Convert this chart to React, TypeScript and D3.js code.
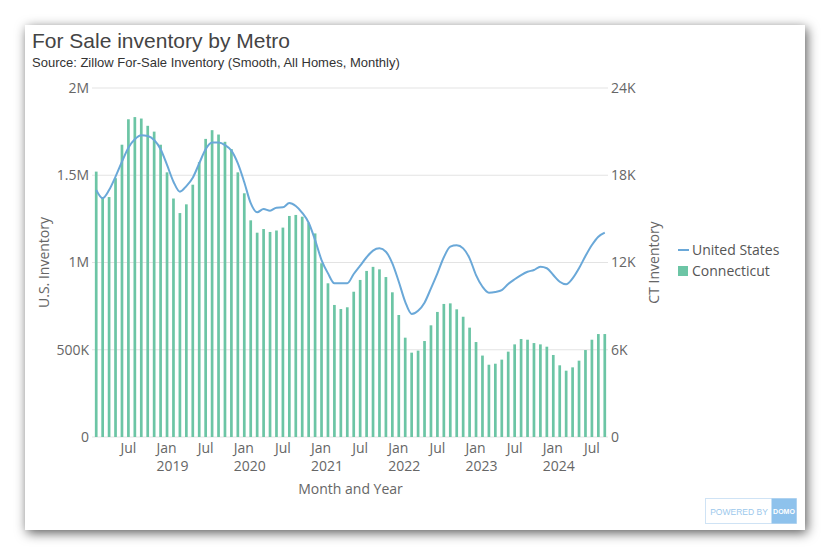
import React from "react";
import * as d3 from "d3";

const months: string[] = [
  "2018-02","2018-03","2018-04","2018-05","2018-06","2018-07","2018-08","2018-09","2018-10","2018-11","2018-12",
  "2019-01","2019-02","2019-03","2019-04","2019-05","2019-06","2019-07","2019-08","2019-09","2019-10","2019-11","2019-12",
  "2020-01","2020-02","2020-03","2020-04","2020-05","2020-06","2020-07","2020-08","2020-09","2020-10","2020-11","2020-12",
  "2021-01","2021-02","2021-03","2021-04","2021-05","2021-06","2021-07","2021-08","2021-09","2021-10","2021-11","2021-12",
  "2022-01","2022-02","2022-03","2022-04","2022-05","2022-06","2022-07","2022-08","2022-09","2022-10","2022-11","2022-12",
  "2023-01","2023-02","2023-03","2023-04","2023-05","2023-06","2023-07","2023-08","2023-09","2023-10","2023-11","2023-12",
  "2024-01","2024-02","2024-03","2024-04","2024-05","2024-06","2024-07","2024-08","2024-09"
];

// Connecticut inventory (thousands)
const ctInventory: number[] = [
  18.25,16.5,16.5,17.8,20.1,21.85,22.0,21.9,21.4,21.0,20.1,
  18.2,16.4,15.4,16.0,17.35,18.9,20.5,21.1,20.8,20.3,19.8,18.2,
  16.76,14.9,14.05,14.3,14.1,14.2,14.4,15.2,15.27,15.15,14.74,14.0,
  11.95,10.57,9.08,8.8,8.92,9.99,10.8,11.42,11.7,11.53,11.0,9.95,
  8.39,6.83,5.8,5.94,6.6,7.68,8.6,9.15,9.19,8.78,8.27,7.52,
  6.53,5.6,4.97,5.04,5.32,5.87,6.37,6.74,6.69,6.46,6.37,6.21,
  5.64,4.93,4.56,4.79,5.25,5.98,6.69,7.08,7.08
];

// United States inventory (millions)
const usInventory: number[] = [
  1.415,1.368,1.415,1.492,1.578,1.658,1.706,1.729,1.725,1.702,1.649,
  1.559,1.463,1.406,1.438,1.486,1.568,1.649,1.687,1.687,1.673,1.641,1.568,
  1.46,1.34,1.288,1.307,1.297,1.314,1.316,1.341,1.324,1.285,1.228,1.129,
  1.014,0.938,0.881,0.881,0.881,0.934,0.982,1.03,1.068,1.081,1.062,0.995,
  0.89,0.775,0.705,0.724,0.77,0.852,0.938,1.03,1.091,1.099,1.081,1.024,
  0.928,0.861,0.827,0.831,0.842,0.877,0.904,0.928,0.947,0.957,0.976,0.967,
  0.928,0.89,0.875,0.909,0.967,1.037,1.1,1.148,1.171
];

const leftTicks: number[] = [0, 500000, 1000000, 1500000, 2000000];
const leftTickLabels: string[] = ["0", "500K", "1M", "1.5M", "2M"];
const rightTicks: number[] = [0, 6000, 12000, 18000, 24000];
const rightTickLabels: string[] = ["0", "6K", "12K", "18K", "24K"];

const julTicks: string[] = ["2018-07","2019-07","2020-07","2021-07","2022-07","2023-07","2024-07"];
const janTicks: string[] = ["2019-01","2020-01","2021-01","2022-01","2023-01","2024-01"];
const yearLabels: string[] = ["2019","2020","2021","2022","2023","2024"];

const seriesNames: string[] = ["United States", "Connecticut"];

const GREEN = "#6cc5a5";
const BLUE = "#6aa8d8";
const AXIS_TEXT = "#666";
const FONT = "'Open Sans', sans-serif";
const ARIAL = "'Liberation Sans', Arial, sans-serif";

export default function App() {
  const left = 93, right = 608, top = 88, bottom = 437;
  const x = d3.scaleBand<string>().domain(months).range([left, right]).paddingInner(0.58).paddingOuter(0.29);
  const yL = d3.scaleLinear().domain([0, 2000000]).range([bottom, top]);
  const yR = d3.scaleLinear().domain([0, 24000]).range([bottom, top]);
  const cx = (m: string) => (x(m) as number) + x.bandwidth() / 2;

  const line = d3
    .line<number>()
    .x((_, i) => cx(months[i]))
    .y((d) => yL(d * 1e6))
    .curve(d3.curveMonotoneX);

  return (
    <div style={{ position: "fixed", left: 0, top: 0, width: 830, height: 555, background: "#fff" }}>
      <svg width={830} height={555} style={{ display: "block" }}>
        <defs>
          <filter id="shadow" x="-10%" y="-10%" width="120%" height="120%">
            <feDropShadow dx="2" dy="3" stdDeviation="6" floodColor="#000" floodOpacity="0.65" />
          </filter>
        </defs>
        <rect x={25} y={25} width={780} height={505} fill="#fff" filter="url(#shadow)" />

        <text x={32} y={48} fontFamily={ARIAL} fontSize={21} fill="#444">
          For Sale inventory by Metro
        </text>
        <text x={32} y={66.5} fontFamily={ARIAL} fontSize={13} fill="#333">
          Source: Zillow For-Sale Inventory (Smooth, All Homes, Monthly)
        </text>

        {leftTicks.map((t, i) => (
          <g key={"g" + i}>
            <line x1={left - 1} x2={right} y1={yL(t)} y2={yL(t)} stroke="#e3e3e3" strokeWidth={1} />
            <text x={89} y={yL(t)} dy="0.35em" textAnchor="end" fontFamily={FONT} fontSize={14} fill={AXIS_TEXT}>
              {leftTickLabels[i]}
            </text>
          </g>
        ))}
        {rightTicks.map((t, i) => (
          <text key={"r" + i} x={611} y={yR(t)} dy="0.35em" textAnchor="start" fontFamily={FONT} fontSize={14} fill={AXIS_TEXT}>
            {rightTickLabels[i]}
          </text>
        ))}

        {months.map((m, i) => (
          <rect key={m} x={x(m)} y={yR(ctInventory[i] * 1000)} width={x.bandwidth()} height={bottom - yR(ctInventory[i] * 1000)} fill={GREEN} />
        ))}

        <path d={line(usInventory) || ""} fill="none" stroke={BLUE} strokeWidth={2} />

        {julTicks.map((m) => (
          <text key={m} x={cx(m)} y={453} textAnchor="middle" fontFamily={FONT} fontSize={14} fill={AXIS_TEXT}>
            Jul
          </text>
        ))}
        {janTicks.map((m, i) => (
          <g key={m}>
            <text x={cx(m) - 10.5} y={453} textAnchor="start" fontFamily={FONT} fontSize={14} fill={AXIS_TEXT}>
              Jan
            </text>
            <text x={cx(m) - 10.5} y={471} textAnchor="start" fontFamily={FONT} fontSize={14} fill={AXIS_TEXT}>
              {yearLabels[i]}
            </text>
          </g>
        ))}

        <text x={(left + right) / 2} y={494} textAnchor="middle" fontFamily={FONT} fontSize={14} fill={AXIS_TEXT}>
          Month and Year
        </text>
        <text transform={`translate(49,${(top + bottom) / 2}) rotate(-90)`} textAnchor="middle" fontFamily={FONT} fontSize={14} fill={AXIS_TEXT}>
          U.S. Inventory
        </text>
        <text transform={`translate(659,${(top + bottom) / 2}) rotate(-90)`} textAnchor="middle" fontFamily={FONT} fontSize={14} fill={AXIS_TEXT}>
          CT Inventory
        </text>

        <line x1={678} x2={689} y1={250} y2={250} stroke={BLUE} strokeWidth={2} />
        <text x={692} y={250} dy="0.35em" fontFamily={FONT} fontSize={14} fill="#555">{seriesNames[0]}</text>
        <rect x={678} y={266} width={10} height={10} fill={GREEN} />
        <text x={692} y={271} dy="0.35em" fontFamily={FONT} fontSize={14} fill="#555">{seriesNames[1]}</text>

        <rect x={705.5} y={498.5} width={91} height={25} fill="#fff" stroke="#cfe3f5" strokeWidth={1} />
        <rect x={771.5} y={498.5} width={25} height={25} fill="#8ec2ec" />
        <text x={739} y={514.5} textAnchor="middle" fontFamily={ARIAL} fontSize={8.5} fill="#9cc8ec">
          POWERED BY
        </text>
        <text x={784} y={514} textAnchor="middle" fontFamily={ARIAL} fontSize={7} fontWeight="bold" fill="#fff">
          DOMO
        </text>
      </svg>
    </div>
  );
}
